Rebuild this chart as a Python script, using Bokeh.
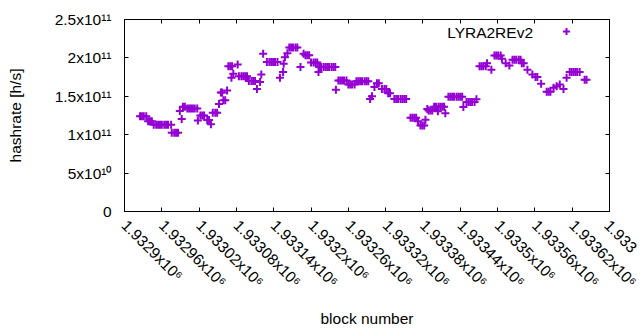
import math
from bokeh.plotting import figure
from bokeh.models import (Range1d, FixedTicker, LinearAxis, Legend, LegendItem,
                          ColumnDataSource, Label)
from bokeh.embed import file_html
from bokeh.resources import INLINE

# ---------------- data ----------------
block = [
    1932925, 1932928, 1932931, 1932935,
    1932938, 1932941, 1932944,
    1932947, 1932951, 1932954, 1932957, 1932960, 1932964, 1932967, 1932970, 1932975,
    1932976, 1932980, 1932983, 1932986,
    1932989, 1932992, 1932994, 1932997,
    1933001, 1933004, 1933007, 1933010, 1933013, 1933017,
    1933018, 1933022, 1933025, 1933028,
    1933033, 1933036, 1933039,
    1933042, 1933046, 1933049,
    1933052, 1933055, 1933057, 1933059, 1933062, 1933065,
    1933067, 1933070, 1933072, 1933073, 1933075, 1933082,
    1933084, 1933088, 1933091, 1933094, 1933097,
    1933100, 1933104, 1933107, 1933110,
    1933113, 1933118, 1933120, 1933123,
    1933129, 1933133, 1933136, 1933139, 1933142, 1933146,
    1933150, 1933155, 1933156, 1933158, 1933162,
    1933165, 1933168, 1933171, 1933175, 1933178,
    1933183, 1933188, 1933191, 1933194, 1933197,
    1933200, 1933204, 1933207, 1933210, 1933212,
    1933213, 1933216, 1933220, 1933223, 1933226, 1933229, 1933233, 1933236, 1933239,
    1933240,
    1933244, 1933247, 1933250, 1933253, 1933257,
    1933260, 1933263, 1933266, 1933270,
    1933273, 1933276, 1933279, 1933282, 1933286, 1933289, 1933292,
    1933295, 1933298, 1933302, 1933306, 1933309,
    1933314, 1933318, 1933321, 1933324, 1933327,
    1933334, 1933337, 1933340, 1933344, 1933347, 1933350, 1933353,
    1933360, 1933363, 1933366, 1933369, 1933372,
    1933376, 1933379, 1933382, 1933384, 1933387,
    1933389, 1933392, 1933395,
    1933398, 1933401, 1933404, 1933405, 1933408, 1933411, 1933414, 1933416,
    1933421, 1933424, 1933427, 1933430, 1933434, 1933437, 1933440, 1933443, 1933445,
    1933450, 1933453, 1933456, 1933459, 1933463, 1933466,
    1933471, 1933474, 1933477, 1933481, 1933483, 1933490,
    1933495, 1933498, 1933501, 1933505, 1933507, 1933513, 1933519,
    1933524, 1933527, 1933530, 1933534, 1933537, 1933539, 1933542,
    1933548, 1933556, 1933561, 1933564, 1933570,
    1933579, 1933582, 1933585, 1933590, 1933595, 1933600, 1933606, 1933611,
    1933616, 1933619, 1933622, 1933625, 1933628, 1933632, 1933640, 1933643,
]

# hashrate in GH/s (1e9 h/s)
hashrate_gh = [
    124, 124, 124, 124,
    117.5, 117.5, 117.5,
    113, 113, 113, 113, 113, 113, 113, 113, 113,
    102.5, 102.5, 102.5, 102.5,
    131, 120.5, 136.5, 136.5,
    134, 134, 134, 134, 134, 134,
    118.5, 125, 125, 125,
    119, 119, 113.5,
    128.5, 128.5, 128.5,
    140, 155, 155, 145, 145, 157.5,
    189, 189, 174, 189, 179.5, 191.5,
    176, 176, 176, 176, 176,
    170, 170, 170, 170,
    159.5, 168.5, 178.5, 205.5,
    194.5, 194.5, 194.5, 194.5, 194.5, 194.5,
    174, 181.5, 192.5, 201, 206,
    213.5, 213.5, 213.5, 213.5, 213.5,
    188, 205.5, 203.5, 203.5, 203.5,
    194, 194, 194, 194, 181.5,
    188, 188, 188, 188, 188, 188, 188, 188, 188,
    158.5,
    170.5, 170.5, 170.5, 170.5, 170.5,
    165.5, 165.5, 165.5, 165.5,
    169.5, 169.5, 169.5, 169.5, 169.5, 169.5, 169.5,
    146.5, 150, 162, 167, 167,
    159.5, 159.5, 159.5, 154, 154,
    146.5, 146.5, 146.5, 146.5, 146.5, 146.5, 146.5,
    122, 122, 122, 122, 117.5,
    112, 112, 112, 119.5, 133.5,
    131.5, 131.5, 131.5,
    136.5, 136.5, 130.5, 136.5, 136.5, 136.5, 136.5, 128,
    149.5, 149.5, 149.5, 149.5, 149.5, 149.5, 149.5, 149.5, 136,
    142.5, 142.5, 142.5, 142.5, 142.5, 146,
    189, 189, 189, 189, 193, 184.5,
    203, 203, 203, 203, 199, 193, 190,
    197.5, 197.5, 197.5, 197.5, 197.5, 193, 193,
    184.5, 178.5, 175, 175, 166.5,
    156, 156, 156, 161, 163, 165.5, 159.5, 174,
    181.5, 181.5, 181.5, 181.5, 181.5, 181.5, 171.5, 171.5,
]

series_name = "LYRA2REv2"

x_ticks = [1932900, 1932960, 1933020, 1933080, 1933140, 1933200, 1933260,
           1933320, 1933380, 1933440, 1933500, 1933560, 1933620, 1933680]
x_tick_labels = ["1.9329x10⁶", "1.93296x10⁶", "1.93302x10⁶", "1.93308x10⁶",
                 "1.93314x10⁶", "1.9332x10⁶", "1.93326x10⁶", "1.93332x10⁶",
                 "1.93338x10⁶", "1.93344x10⁶", "1.9335x10⁶", "1.93356x10⁶",
                 "1.93362x10⁶", "1.93368x10⁶"]
y_ticks = [0, 5e10, 1e11, 1.5e11, 2e11, 2.5e11]
y_tick_labels = ["0", "5x10¹⁰", "1x10¹¹", "1.5x10¹¹", "2x10¹¹", "2.5x10¹¹"]

assert len(block) == len(hashrate_gh), (len(block), len(hashrate_gh))

# ---------------- chart ----------------
FONT = "Liberation Sans"
FS = "15.5px"
COLOR = "#9400D3"

src = ColumnDataSource(dict(block=block, hashrate=[v * 1e9 for v in hashrate_gh]))

p = figure(width=640, height=330, output_backend="svg", toolbar_location=None,
           x_range=Range1d(x_ticks[0], x_ticks[-1]),
           y_range=Range1d(y_ticks[0], y_ticks[-1]),
           min_border_left=124, min_border_right=31, min_border_top=19,
           min_border_bottom=119,
           x_axis_label="block number", y_axis_label="hashrate [h/s]")
p.xgrid.visible = False
p.ygrid.visible = False
p.outline_line_color = "black"
p.outline_line_alpha = 1.0
p.outline_line_width = 1
p.background_fill_color = "white"
p.border_fill_color = "white"

r = p.scatter(x="block", y="hashrate", source=src, marker="cross", size=8,
              line_color=COLOR, line_width=2)


def style_axis(ax):
    ax.axis_line_color = "black"
    ax.major_tick_line_color = "black"
    ax.major_tick_in = 4
    ax.major_tick_out = 0
    ax.minor_tick_line_color = None
    ax.major_label_text_font = FONT
    ax.major_label_text_font_size = FS
    ax.major_label_text_color = "black"
    ax.axis_label_text_font = FONT
    ax.axis_label_text_font_size = FS
    ax.axis_label_text_font_style = "normal"
    ax.axis_label_text_color = "black"


xa = p.xaxis[0]
style_axis(xa)
xa.ticker = FixedTicker(ticks=x_ticks)
# in the original the last tick label runs off the page edge, so only its
# first characters show; Bokeh would pull a full label back inside the
# canvas (on top of its neighbour), so only the visible part is shown
overrides = {t: l for t, l in zip(x_ticks, x_tick_labels)}
overrides[x_ticks[-1]] = x_tick_labels[-1][:5]
xa.major_label_overrides = overrides
xa.major_label_orientation = -math.pi / 4
xa.major_label_standoff = 11
xa.axis_label_standoff = 11

ya = p.yaxis[0]
style_axis(ya)
ya.ticker = FixedTicker(ticks=y_ticks)
ya.major_label_overrides = {t: l for t, l in zip(y_ticks, y_tick_labels)}
ya.major_label_standoff = 13
ya.axis_label_standoff = 28

# mirrored ticks on top and right (gnuplot style)
top = LinearAxis(ticker=FixedTicker(ticks=x_ticks),
                 major_label_overrides={t: "" for t in x_ticks})
style_axis(top)
top.major_label_text_font_size = "0px"
top.major_label_standoff = 0
p.add_layout(top, "above")

right = LinearAxis(ticker=FixedTicker(ticks=y_ticks),
                   major_label_overrides={t: "" for t in y_ticks})
style_axis(right)
right.major_label_text_font_size = "0px"
right.major_label_standoff = 0
p.add_layout(right, "right")

# gnuplot-style key: text on the left, point sample on the right
legend = Legend(items=[LegendItem(label=" ", renderers=[r])],
                location=(433, 171), padding=0, margin=0, spacing=0,
                glyph_width=18, glyph_height=18, label_standoff=0,
                label_width=0, label_text_font=FONT,
                label_text_font_size=FS, label_text_color="black",
                border_line_color=None, background_fill_alpha=0)
p.add_layout(legend)
p.add_layout(Label(x=1933557, y=2.33e11, text=series_name, text_align="right",
                   text_baseline="middle", text_font=FONT, text_font_size=FS,
                   text_color="black"))

open("out.html", "w").write(file_html(p, INLINE))
